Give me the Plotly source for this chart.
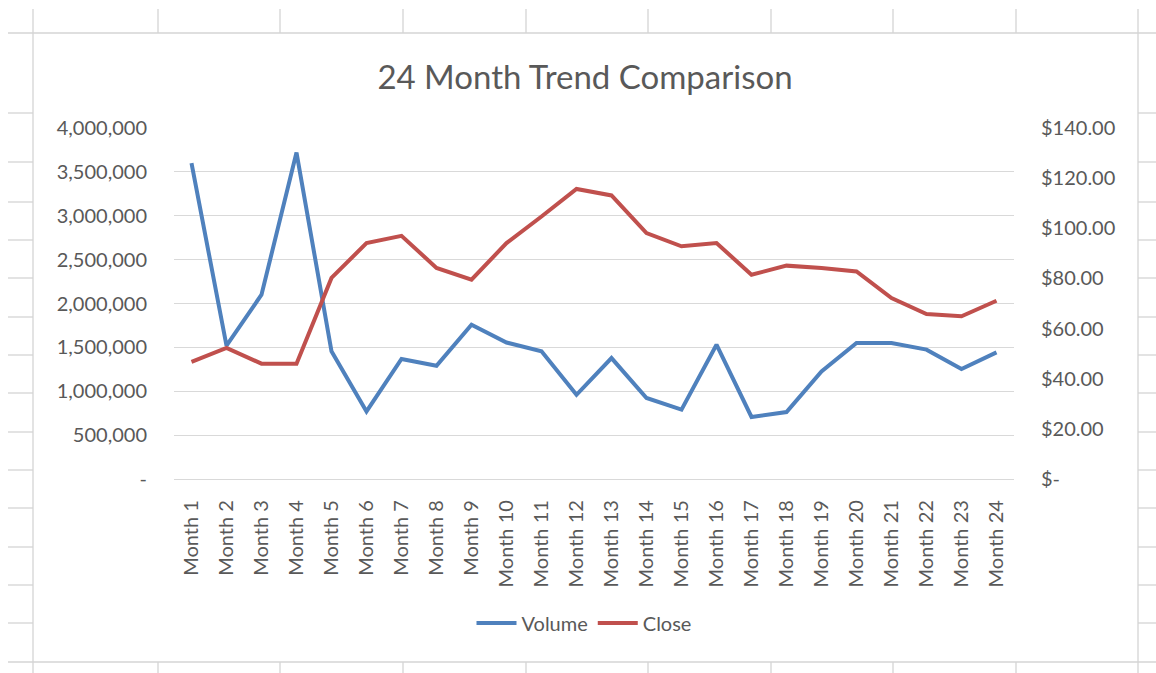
import plotly.graph_objects as go

# --- data ---------------------------------------------------------------
months = [f"Month {i}" for i in range(1, 25)]
volume = [3600000, 1520000, 2100000, 3720000, 1455000, 770000, 1368000, 1290000,
          1758000, 1555000, 1455000, 960000, 1378000, 923000, 790000, 1530000,
          707000, 763000, 1226000, 1550000, 1550000, 1474000, 1254000, 1443000]
close = [46.7, 52.3, 46.0, 46.0, 80.2, 94.1, 97.0, 84.2, 79.5, 94.1, 104.7, 115.7,
         113.1, 98.1, 92.8, 94.1, 81.5, 85.1, 84.2, 82.8, 72.2, 65.8, 64.9, 71.1]

vol_ticks = [0, 500000, 1000000, 1500000, 2000000, 2500000, 3000000, 3500000, 4000000]
vol_labels = ["-", "500,000", "1,000,000", "1,500,000", "2,000,000", "2,500,000",
              "3,000,000", "3,500,000", "4,000,000"]
price_ticks = [0, 20, 40, 60, 80, 100, 120, 140]
price_labels = ["$-", "$20.00", "$40.00", "$60.00", "$80.00", "$100.00", "$120.00", "$140.00"]

# --- page geometry ------------------------------------------------------
W, H = 1156, 673
ML, MR, MT, MB = 174, 142, 128, 194
PW, PH = W - ML - MR, H - MT - MB

def px(x):
    return (x - ML) / PW

def py(y):
    return (H - MB - y) / PH

FONT = "Lato"
TXT = "#595959"
GRID = "#d9d9d9"
SHEET = "#d4d4d4"

fig = go.Figure()
fig.add_trace(go.Scatter(x=months, y=volume, name="Volume", mode="lines",
                         line=dict(color="#4F81BD", width=4)))
fig.add_trace(go.Scatter(x=months, y=close, name="Close", mode="lines", yaxis="y2",
                         line=dict(color="#C0504D", width=4)))

# spreadsheet cell grid around the chart object
shapes = []
col_x = [33, 158, 280, 403, 526, 648, 771, 893, 1016, 1138]
row_y = [113, 162, 202, 240, 278, 317, 355, 393, 432, 470, 508, 547, 585, 623]
def seg(x0, y0, x1, y1):
    shapes.append(dict(type="line", xref="paper", yref="paper",
                       x0=px(x0), y0=py(y0), x1=px(x1), y1=py(y1),
                       line=dict(color=SHEET, width=1.3), layer="below"))
for cx in col_x:
    if cx in (33, 1138):
        seg(cx, 9, cx, 673)
    else:
        seg(cx, 9, cx, 33)
        seg(cx, 662, cx, 673)
seg(8, 33, 1156, 33)
seg(8, 662, 1156, 662)
for ry in row_y:
    seg(8, ry, 33, ry)
    seg(1138, ry, 1156, ry)

fig.update_layout(
    width=W, height=H,
    margin=dict(l=ML, r=MR, t=MT, b=MB),
    paper_bgcolor="white", plot_bgcolor="white",
    font=dict(family=FONT, color=TXT, size=20),
    title=dict(text="24 Month Trend Comparison", x=px(585), xref="paper",
               xanchor="center", y=1 - 77 / H, yanchor="middle",
               font=dict(family=FONT, size=33, color=TXT)),
    xaxis=dict(type="category", range=[-0.5, 23.5], tickangle=-90,
               showgrid=False, showline=True, linecolor=GRID, linewidth=1.3,
               ticks="", zeroline=False,
               ticklabelstandoff=12, tickfont=dict(size=20, color=TXT)),
    yaxis=dict(range=[0, 4000000], tickvals=vol_ticks, ticktext=vol_labels,
               showgrid=True, gridcolor=GRID, gridwidth=1.3, zeroline=False,
               showline=False, ticks="", ticklabelstandoff=26,
               tickfont=dict(size=20, color=TXT)),
    yaxis2=dict(range=[0, 140], tickvals=price_ticks, ticktext=price_labels,
                overlaying="y", side="right", showgrid=False, zeroline=False,
                showline=False, ticks="", ticklabelstandoff=26,
                tickfont=dict(size=20, color=TXT)),
    legend=dict(orientation="h", x=px(584), xanchor="center", y=py(623),
                yanchor="middle", font=dict(size=20, color=TXT),
                bgcolor="rgba(0,0,0,0)", itemwidth=40, tracegroupgap=0),
    shapes=shapes,
    showlegend=True,
)

fig.write_html("out.html")
